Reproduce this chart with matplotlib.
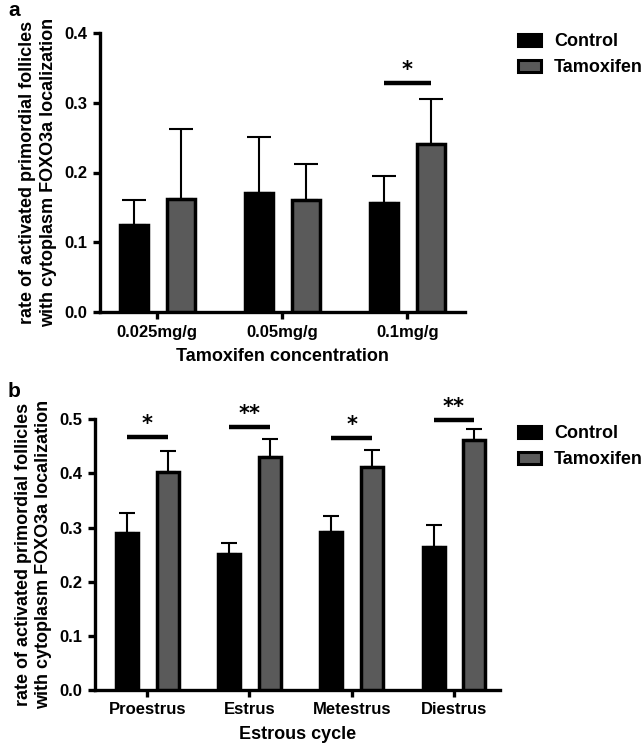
import numpy as np
import matplotlib.pyplot as plt
from matplotlib.patches import Patch

plt.rcParams['font.family'] = ['Liberation Sans', 'DejaVu Sans']
plt.rcParams['font.weight'] = 'bold'

# ---------- data
conc = ['0.025mg/g', '0.05mg/g', '0.1mg/g']
ctrl_a = [0.125, 0.171, 0.156]
ctrl_a_err = [0.036, 0.080, 0.039]
tam_a = [0.162, 0.161, 0.241]
tam_a_err = [0.100, 0.051, 0.064]
sig_a = ['', '', '*']
sig_a_y = [0, 0, 0.328]

cycle = ['Proestrus', 'Estrus', 'Metestrus', 'Diestrus']
ctrl_b = [0.290, 0.251, 0.291, 0.265]
ctrl_b_err = [0.036, 0.020, 0.031, 0.039]
tam_b = [0.402, 0.431, 0.411, 0.461]
tam_b_err = [0.039, 0.033, 0.032, 0.021]
sig_b = ['*', '**', '*', '**']
sig_b_y = [0.467, 0.485, 0.465, 0.498]

black = '#000000'
gray = '#5a5a5a'
ylab = 'rate of activated primordial follicles\nwith cytoplasm FOXO3a localization'

fig = plt.figure(figsize=(6.44, 7.5), dpi=100)


def panel(ax, cats, c, ce, t, te, sig, sigy, off, w, cap, ymax, xlabel, xlim):
    x = np.arange(len(cats))
    ax.bar(x - off, c, w, color=black, edgecolor=black, linewidth=2.5, zorder=3)
    ax.bar(x + off, t, w, color=gray, edgecolor=black, linewidth=2.5, zorder=3)
    ax.errorbar(x - off, c, yerr=[np.zeros(len(c)), ce], fmt='none', ecolor=black,
                elinewidth=1.5, capsize=cap, capthick=1.5, zorder=2)
    ax.errorbar(x + off, t, yerr=[np.zeros(len(t)), te], fmt='none', ecolor=black,
                elinewidth=1.5, capsize=cap, capthick=1.5, zorder=2)
    for i in range(len(cats)):
        if sig[i]:
            ax.plot([x[i] - off, x[i] + off], [sigy[i], sigy[i]], color=black, lw=3.2,
                    solid_capstyle='butt', clip_on=False)
            ax.annotate(sig[i], (x[i], sigy[i]), xytext=(0, 9.5), textcoords='offset points',
                        ha='center', va='center', fontsize=15, fontweight='bold',
                        family='DejaVu Sans', annotation_clip=False)
    ax.set_xlim(*xlim)
    ax.set_ylim(0, ymax)
    ax.set_xticks(x)
    ax.set_xticklabels(cats, fontsize=12, fontweight='bold')
    ax.set_xlabel(xlabel, fontsize=13, fontweight='bold', labelpad=6)
    ax.set_ylabel(ylab, fontsize=13, fontweight='bold', labelpad=5, linespacing=1.3)
    for s in ['top', 'right']:
        ax.spines[s].set_visible(False)
    for s in ['left', 'bottom']:
        ax.spines[s].set_linewidth(2.4)
    ax.tick_params(axis='both', width=2.4, length=5, labelsize=12, pad=4)
    for lbl in ax.get_yticklabels():
        lbl.set_fontweight('bold')


ax1 = fig.add_axes([0.155, 0.584, 0.567, 0.372])
panel(ax1, conc, ctrl_a, ctrl_a_err, tam_a, tam_a_err, sig_a, sig_a_y,
      0.19, 0.225, 8.5, 0.4, 'Tamoxifen concentration', (-0.46, 2.46))
ax1.set_yticks([0.0, 0.1, 0.2, 0.3, 0.4])
ax1.set_yticklabels(['0.0', '0.1', '0.2', '0.3', '0.4'], fontweight='bold')

ax2 = fig.add_axes([0.1475, 0.08, 0.629, 0.361])
panel(ax2, cycle, ctrl_b, ctrl_b_err, tam_b, tam_b_err, sig_b, sig_b_y,
      0.2, 0.215, 5.5, 0.5, 'Estrous cycle', (-0.51, 3.45))
ax2.set_yticks([0.0, 0.1, 0.2, 0.3, 0.4, 0.5])
ax2.set_yticklabels(['0.0', '0.1', '0.2', '0.3', '0.4', '0.5'], fontweight='bold')

handles = [Patch(facecolor=black, edgecolor=black, linewidth=2.2),
           Patch(facecolor=gray, edgecolor=black, linewidth=2.2)]
for ytop in [1 - 33 / 750, 1 - 425 / 750]:
    fig.legend(handles, ['Control', 'Tamoxifen'], loc='upper left',
               bbox_to_anchor=(518 / 644, ytop), frameon=False, borderpad=0,
               borderaxespad=0, handlelength=1.3, handleheight=0.65,
               handletextpad=0.7, labelspacing=0.5,
               prop={'size': 13, 'weight': 'bold'})

fig.text(8 / 644, 1 - 10 / 750, 'a', fontsize=15, fontweight='bold', va='center')
fig.text(8 / 644, 1 - 392 / 750, 'b', fontsize=15, fontweight='bold', va='center')

fig.savefig('out.png', dpi=100)
